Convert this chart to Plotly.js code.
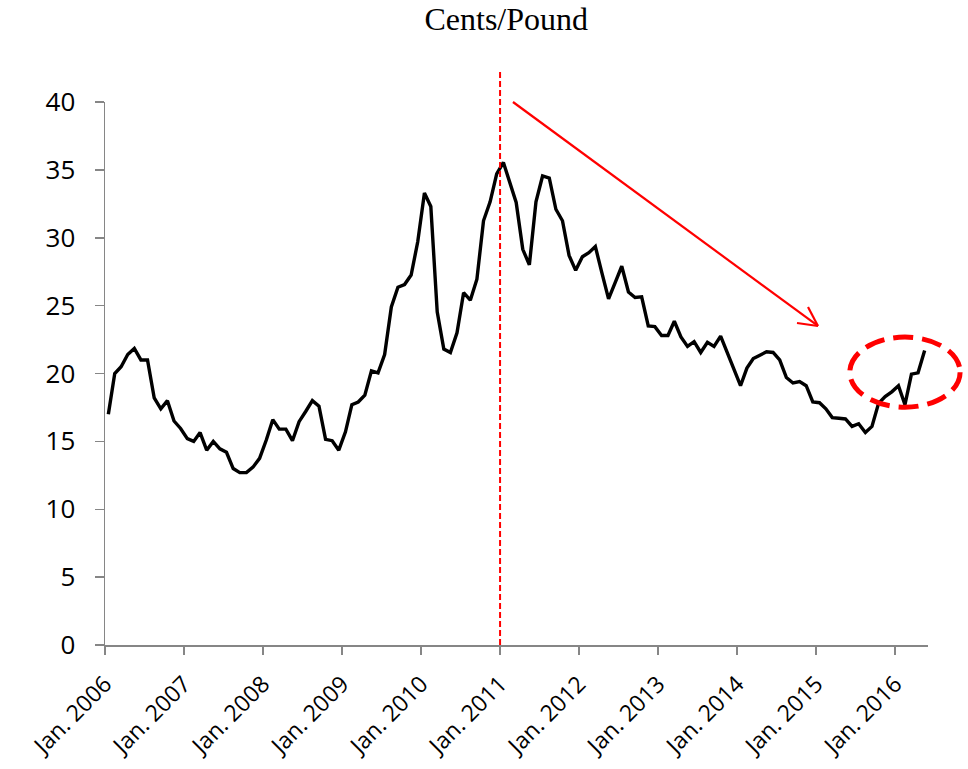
<!DOCTYPE html>
<html>
<head>
<meta charset="utf-8">
<script src="https://cdn.plot.ly/plotly-3.0.1.min.js"></script>
<style>html,body{margin:0;padding:0;background:#fff}#chart{width:968px;height:769px}</style>
</head>
<body>
<div id="chart"></div>
<script>
// Monthly price, cents per pound, Jan. 2006 .. May 2016
const firstMonth = '2006-01';
const values2006 = [17.0, 20.0, 20.5, 21.4, 21.85, 21.0, 21.0, 18.2, 17.4, 18.0, 16.5, 15.95];
const values2007 = [15.2, 15.0, 15.65, 14.35, 15.0, 14.45, 14.2, 13.0, 12.7, 12.7, 13.1, 13.75];
const values2008 = [15.1, 16.6, 15.9, 15.9, 15.05, 16.45, 17.2, 18.0, 17.6, 15.15, 15.05, 14.35];
const values2009 = [15.7, 17.7, 17.9, 18.4, 20.2, 20.05, 21.4, 24.9, 26.35, 26.55, 27.25, 29.7];
const values2010 = [33.3, 32.3, 24.55, 21.8, 21.55, 23.0, 25.95, 25.4, 26.95, 31.25, 32.65, 34.7];
const values2011 = [35.55, 34.0, 32.6, 29.15, 28.0, 32.65, 34.55, 34.4, 32.1, 31.25, 28.7, 27.6];
const values2012 = [28.6, 28.9, 29.35, 27.4, 25.5, 26.7, 27.9, 26.0, 25.6, 25.65, 23.5, 23.45];
const values2013 = [22.8, 22.8, 23.85, 22.7, 22.0, 22.35, 21.55, 22.3, 22.0, 22.75, 21.5, 20.3];
const values2014 = [19.1, 20.4, 21.1, 21.35, 21.6, 21.55, 21.0, 19.7, 19.3, 19.4, 19.1, 17.9];
const values2015 = [17.85, 17.4, 16.75, 16.7, 16.65, 16.1, 16.3, 15.65, 16.1, 17.8, 18.3, 18.65];
const values2016 = [19.1, 17.7, 19.95, 20.05, 21.7];
const yTickValues = [0, 5, 10, 15, 20, 25, 30, 35, 40];
const chartTitle = 'Cents/Pound';
const markerDate = '2011-01-01';

const prices = [].concat(values2006, values2007, values2008, values2009, values2010,
  values2011, values2012, values2013, values2014, values2015, values2016);

// month labels for each value
const months = [];
{
  let y = parseInt(firstMonth.slice(0, 4)), m = parseInt(firstMonth.slice(5, 7));
  for (let i = 0; i < prices.length; i++) {
    months.push(y + '-' + String(m).padStart(2, '0'));
    m++; if (m > 12) { m = 1; y++; }
  }
}

const trace = {
  x: months,
  y: prices,
  type: 'scatter',
  mode: 'lines',
  xperiod: 'M1',
  xperiodalignment: 'middle',
  line: {color: '#000000', width: 3.4},
  hoverinfo: 'skip'
};

const red = '#ff0000';
const layout = {
  width: 968, height: 769,
  margin: {l: 105, r: 40, t: 102, b: 124},
  paper_bgcolor: '#ffffff', plot_bgcolor: '#ffffff',
  showlegend: false,
  title: {
    text: chartTitle,
    font: {family: 'Liberation Serif, serif', size: 32, color: '#000000'},
    x: 0.523, xref: 'container', xanchor: 'center',
    y: 0.975, yref: 'container', yanchor: 'middle'
  },
  xaxis: {
    type: 'date',
    range: ['2006-01-01', '2016-06-01'],
    tick0: '2006-01-01', dtick: 'M12',
    tickformat: '%b. %Y',
    tickangle: -45,
    showgrid: false, zeroline: false,
    showline: true, linecolor: '#868686', linewidth: 1.5,
    ticks: 'outside', ticklen: 8, tickwidth: 1.5, tickcolor: '#868686',
    tickfont: {family: 'Open Sans, sans-serif', size: 23, color: '#000000'},
    ticklabelstandoff: 7
  },
  yaxis: {
    range: [0, 40],
    tickvals: yTickValues,
    showgrid: false, zeroline: false,
    showline: true, linecolor: '#868686', linewidth: 1.5,
    ticks: 'outside', ticklen: 9, tickwidth: 1.5, tickcolor: '#868686',
    tickfont: {family: 'Open Sans, sans-serif', size: 26, color: '#000000'},
    ticklabelstandoff: 14
  },
  shapes: [
    // vertical dashed marker
    {type: 'line', xref: 'x', yref: 'paper', x0: markerDate, x1: markerDate, y0: 0, y1: 1.059,
     line: {color: red, width: 2, dash: '6px,3px'}},
    // downward trend arrow
    {type: 'line', xref: 'paper', yref: 'paper', x0: 0.4957, y0: 1.0, x1: 0.8663, y1: 0.5875,
     line: {color: red, width: 2.2}},
    {type: 'line', xref: 'paper', yref: 'paper', x0: 0.8663, y0: 0.5875, x1: 0.8542, y1: 0.6225,
     line: {color: red, width: 2.2}},
    {type: 'line', xref: 'paper', yref: 'paper', x0: 0.8663, y0: 0.5875, x1: 0.8408, y1: 0.5930,
     line: {color: red, width: 2.2}},
    // dashed ellipse
    {type: 'circle', xref: 'paper', yref: 'paper', x0: 0.905, x1: 1.039, y0: 0.438, y1: 0.567,
     line: {color: red, width: 5, dash: '20px,9px'}}
  ]
};

Plotly.newPlot('chart', [trace], layout, {displayModeBar: false, staticPlot: true});
</script>
</body>
</html>
